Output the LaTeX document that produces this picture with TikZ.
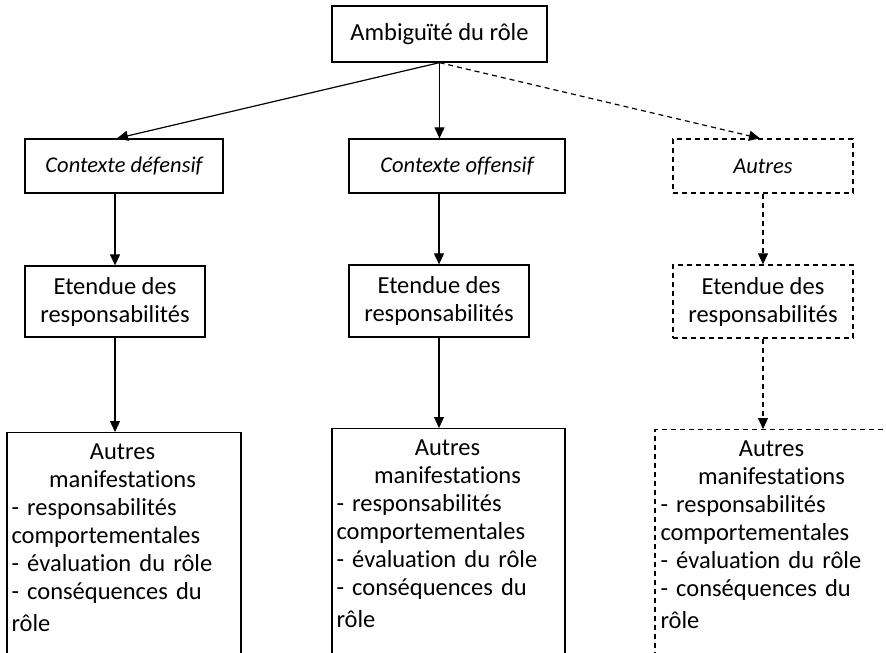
\documentclass[tikz,border=0pt]{standalone}
\usepackage{fontspec}
\setmainfont{Carlito}[Ligatures={NoCommon}]
\usetikzlibrary{arrows.meta}
\newcommand\mainsz{\fontsize{24.5}{28}\selectfont}
\newcommand\itsz{\fontsize{22.5}{26}\selectfont\itshape}
\begin{document}
\begin{tikzpicture}[x=1pt,y=-1pt,
  box/.style={draw, line width=1.3pt, inner sep=0pt, align=center, font=\mainsz},
  dbox/.style={box, dash pattern=on 5pt off 4pt},
  txt/.style={inner sep=0pt, text width=222pt, align=left, font=\mainsz, anchor=north west},
  arr/.style={line width=1.2pt, -{Triangle[length=11pt,width=10pt]}},
  darr/.style={arr, dash pattern=on 5pt off 4pt},
]
\useasboundingbox (0,0) rectangle (886,653);
\clip (0,0) rectangle (886,653);
\fill[white] (0,0) rectangle (886,653);

\node[box, minimum width=215pt, minimum height=56pt] (top) at (439.5,34) {Ambiguïté du rôle};

\node[box, minimum width=198pt, minimum height=54pt, font=\itsz] (def) at (124,166) {Contexte défensif};
\node[box, minimum width=216pt, minimum height=54pt, font=\itsz] (off) at (457,166) {Contexte offensif};
\node[dbox, minimum width=180pt, minimum height=54pt, font=\itsz] (aut) at (763,166) {Autres};

\node[box, minimum width=180pt, minimum height=71pt] (etL) at (115,301.5) {Etendue des\\responsabilités};
\node[box, minimum width=180pt, minimum height=72pt] (etM) at (439,301) {Etendue des\\responsabilités};
\node[dbox, minimum width=180pt, minimum height=73pt] (etR) at (763,301.5) {Etendue des\\responsabilités};

\node[box, minimum width=234pt, minimum height=300pt, anchor=north] (bL) at (124,432) {};
\node[box, minimum width=233pt, minimum height=300pt, anchor=north] (bM) at (448.5,428) {};
\node[dbox, minimum width=234pt, minimum height=300pt, anchor=north] (bR) at (772,429) {};

\node[txt] (tL) at ([xshift=5pt,yshift=-12pt]bL.north west) {{\centering Autres\\manifestations\par}- responsabilités\\comportementales\\- évaluation du rôle\\- conséquences du\\[4pt]rôle};
\node[txt] (tM) at ([xshift=5pt,yshift=-12pt]bM.north west) {{\centering Autres\\manifestations\par}- responsabilités\\comportementales\\- évaluation du rôle\\- conséquences du\\[4pt]rôle};
\node[txt] (tR) at ([xshift=6pt,yshift=-12pt]bR.north west) {{\centering Autres\\manifestations\par}- responsabilités\\comportementales\\- évaluation du rôle\\- conséquences du\\[4pt]rôle};

\draw[arr] (top.south) -- ([xshift=-7pt]def.north);
\draw[arr] (top.south) -- (top.south |- off.north);
\draw[darr] (top.south) -- ([xshift=-3pt]aut.north);

\draw[arr] (etL.north |- def.south) -- (etL.north);
\draw[arr] (etM.north |- off.south) -- (etM.north);
\draw[darr] (aut.south) -- (etR.north);

\draw[arr] (etL.south) -- (etL.south |- bL.north);
\draw[arr] (etM.south) -- (etM.south |- bM.north);
\draw[darr] (etR.south) -- (etR.south |- bR.north);
\end{tikzpicture}
\end{document}
